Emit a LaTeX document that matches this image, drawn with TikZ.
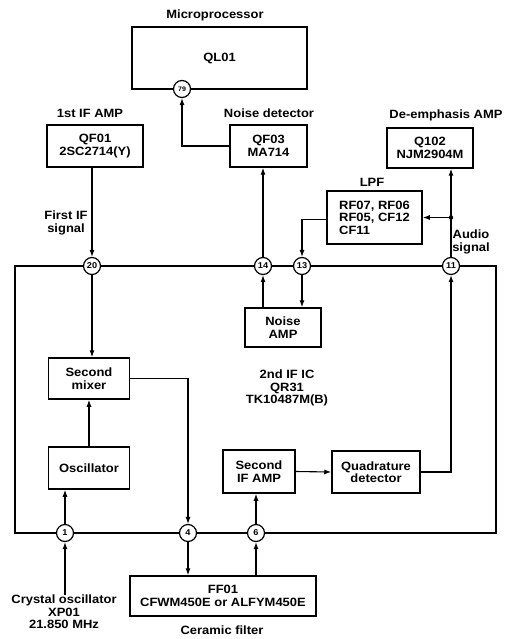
\documentclass[tikz,border=0pt]{standalone}
\usepackage{fontspec}
\setmainfont{Liberation Sans}[FakeStretch=1.08]
\usetikzlibrary{arrows.meta}
\begin{document}
\begin{tikzpicture}[x=1pt,y=-1pt,
  txt/.style={font=\fontsize{12}{12.5}\selectfont\bfseries, align=center, inner sep=0pt},
  lbl/.style={txt},
  blk/.style={draw, line width=1.5pt, txt},
  pin/.style={circle, draw, fill=white, line width=1.2pt, minimum size=17pt, inner sep=0pt, font=\fontsize{8.5}{8.5}\selectfont\bfseries},
  wire/.style={line width=1.1pt},
  arr/.style={wire, -{Latex[length=7pt,width=5pt]}}]
\useasboundingbox[fill=white] (0,0) rectangle (506,639);

% main IC outline
\node[draw, line width=2.4pt, minimum width=481pt, minimum height=267pt, inner sep=0pt] (ic) at (255.5,399.5) {};
\node[lbl] (ictxt) at (287,388) {2nd IF IC\\QR31\\TK10487M(B)};

% external blocks
\node[lbl] (lmp) at (215,15) {Microprocessor};
\node[blk, minimum width=175pt, minimum height=62pt] (ql01) at (219.5,58) {QL01};
\node[lbl] (l1st) at (90,113) {1st IF AMP};
\node[blk, minimum width=96pt, minimum height=42pt] (qf01) at (95,146) {QF01\\2SC2714(Y)};
\node[lbl] (lnd) at (269,113) {Noise detector};
\node[blk, minimum width=77pt, minimum height=42pt] (qf03) at (268.5,146) {QF03\\MA714};
\node[lbl] (lde) at (446,115) {De-emphasis AMP};
\node[blk, minimum width=86pt, minimum height=40pt] (q102) at (430,148) {Q102\\NJM2904M};
\node[lbl] (llpf) at (372,182) {LPF};
\node[blk, align=left, minimum width=95pt, minimum height=53pt] (lpf) at (374.5,217.5) {RF07, RF06\\RF05, CF12\\CF11};
\node[lbl] (laud) at (471,242) {Audio\\signal};
\node[lbl] (lfirst) at (66,223) {First IF\\signal};
\coordinate (dot) at (451,217.5);

% internal blocks
\node[blk, minimum width=76pt, minimum height=39pt] (namp) at (283,327.5) {Noise\\AMP};
\node[blk, minimum width=81pt, minimum height=41pt] (mixer) at (89,378.5) {Second\\mixer};
\node[blk, minimum width=81pt, minimum height=42pt] (osc) at (89,468) {Oscillator};
\node[blk, minimum width=72pt, minimum height=43pt] (ifamp) at (259,471.5) {Second\\IF AMP};
\node[blk, minimum width=88pt, minimum height=42pt] (quad) at (376,472) {Quadrature\\detector};

% bottom blocks
\node[blk, minimum width=186pt, minimum height=40pt] (ff01) at (223,596) {FF01\\CFWM450E or ALFYM450E};
\node[lbl] (lcer) at (222,630) {Ceramic filter};
\node[lbl] (xtal) at (64,612) {Crystal oscillator\\XP01\\21.850 MHz};

% pins
\node[pin, font=\fontsize{6.5}{6.5}\selectfont\bfseries] (p79) at (182,89) {79};
\node[pin] (c20) at (92,266) {20};
\node[pin] (c14) at (263,266) {14};
\node[pin] (c13) at (302,266) {13};
\node[pin] (c11) at (451,266) {11};
\node[pin] (c1) at (65,533) {1};
\node[pin] (c4) at (188,533) {4};
\node[pin] (c6) at (256,533) {6};

% connectors
\draw[arr] (c20.north |- qf01.south) -- (c20.north);
\draw[arr] (c20.south) -- (c20.south |- mixer.north);
\draw[arr] (osc.north) -- (mixer.south);
\draw[arr] (c1.north) -- (c1.north |- osc.south);
\draw[arr] (c1.south |- xtal.north) -- (c1.south);
\draw[arr] (mixer.east) -| (c4.north);
\draw[arr] (c4.south) -- (c4.south |- ff01.north);
\draw[arr] (c6.south |- ff01.north) -- (c6.south);
\draw[arr] (c6.north) -- (c6.north |- ifamp.south);
\draw[arr] (ifamp.east) -- (quad.west);
\draw[arr] (quad.east) -| (c11.south);
\draw[arr] (c11.north) -- (c11.north |- q102.south);
\fill (dot) circle (2.2pt);
\draw[arr] (dot) -- (dot -| lpf.east);
\draw[arr] ([yshift=-2pt]lpf.west) -| (c13.north);
\draw[arr] (c13.south) -- (c13.south |- namp.north);
\draw[arr] (c14.south |- namp.north) -- (c14.south);
\draw[arr] (c14.north) -- (c14.north |- qf03.south);
\draw[arr] (qf03.west) -| (p79.south);
\end{tikzpicture}
\end{document}
